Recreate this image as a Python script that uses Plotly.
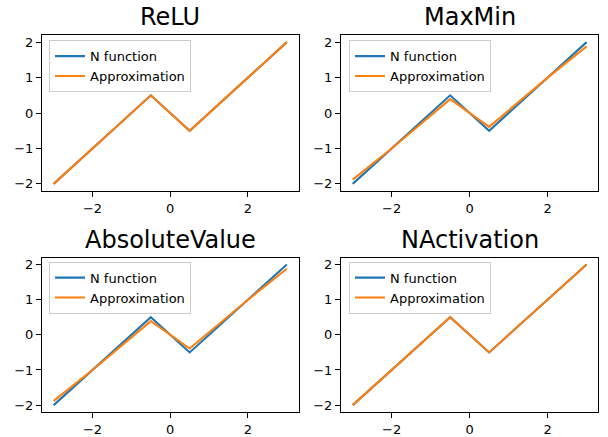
import plotly.graph_objects as go

W, H = 608, 437

titles = ["ReLU", "MaxMin", "AbsoluteValue", "NActivation"]

n_x = [-3, -0.5, 0.5, 3]
n_y = [-2, 0.5, -0.5, 2]

relu_x = [-3, -0.5, 0.5, 3]
relu_y = [-2, 0.5, -0.5, 2]

maxmin_x = [-3, -2, -0.5, 0.5, 2, 3]
maxmin_y = [-1.88, -1.0, 0.39, -0.39, 1.0, 1.88]

absval_x = [-3, -2, -0.5, 0.5, 2, 3]
absval_y = [-1.88, -1.0, 0.39, -0.39, 1.0, 1.88]

nact_x = [-3, -0.5, 0.5, 3]
nact_y = [-2, 0.5, -0.5, 2]

x_ticks = [-2, 0, 2]
y_ticks = [-2, -1, 0, 1, 2]

approx = [(relu_x, relu_y), (maxmin_x, maxmin_y), (absval_x, absval_y), (nact_x, nact_y)]

BLUE = "#1f77b4"
ORANGE = "#ff7f0e"
FONT = "DejaVu Sans"

# pixel boxes: (left, right, top, bottom)
boxes = [
    (42, 298.5, 35.3, 192.3),
    (341, 598.3, 35.3, 192.3),
    (42, 298.5, 259.3, 415),
    (341, 598.3, 259.3, 415),
]
legend_pos = [(49, 40.5), (349, 40.5), (49, 263.5), (349, 263.5)]

fig = go.Figure()
layout = dict(
    width=W, height=H, margin=dict(l=0, r=0, t=0, b=0),
    paper_bgcolor="white", plot_bgcolor="white",
    font=dict(family=FONT, size=13, color="black"),
    annotations=[],
)

for i in range(4):
    xa = "x" if i == 0 else f"x{i+1}"
    ya = "y" if i == 0 else f"y{i+1}"
    leg = "legend" if i == 0 else f"legend{i+1}"
    ax, ay = approx[i]
    fig.add_trace(go.Scatter(x=n_x, y=n_y, mode="lines", name="N function",
                             line=dict(color=BLUE, width=2.1), xaxis=xa, yaxis=ya, legend=leg))
    fig.add_trace(go.Scatter(x=ax, y=ay, mode="lines", name="Approximation",
                             line=dict(color=ORANGE, width=2.1), xaxis=xa, yaxis=ya, legend=leg))
    l, r, t, b = boxes[i]
    axis_common = dict(showline=True, mirror=True, linecolor="black", linewidth=1,
                       ticks="outside", ticklen=5, tickwidth=1, tickcolor="black",
                       showgrid=False, zeroline=False,
                       tickfont=dict(family=FONT, size=13, color="black"))
    layout["xaxis" if i == 0 else f"xaxis{i+1}"] = dict(
        domain=[l / W, r / W], range=[-3.3, 3.3], tickvals=x_ticks,
        anchor=ya, **axis_common)
    layout["yaxis" if i == 0 else f"yaxis{i+1}"] = dict(
        domain=[1 - b / H, 1 - t / H], range=[-2.2, 2.2], tickvals=y_ticks,
        anchor=xa, **axis_common)
    lx, ly = legend_pos[i]
    layout[leg] = dict(x=lx / W, y=1 - ly / H, xanchor="left", yanchor="top",
                       bgcolor="white", bordercolor="#cccccc", borderwidth=1,
                       tracegroupgap=0, itemwidth=30,
                       font=dict(family=FONT, size=13, color="black"))
    layout["annotations"].append(dict(
        text=titles[i], x=(l + r) / 2 / W, y=1 - t / H, xref="paper", yref="paper",
        xanchor="center", yanchor="bottom", showarrow=False, yshift=2,
        font=dict(family=FONT, size=24, color="black")))

fig.update_layout(**layout)
fig.write_html("out.html", config={"displayModeBar": False},
               post_script="document.body.style.margin='0';document.body.style.overflow='hidden';")
